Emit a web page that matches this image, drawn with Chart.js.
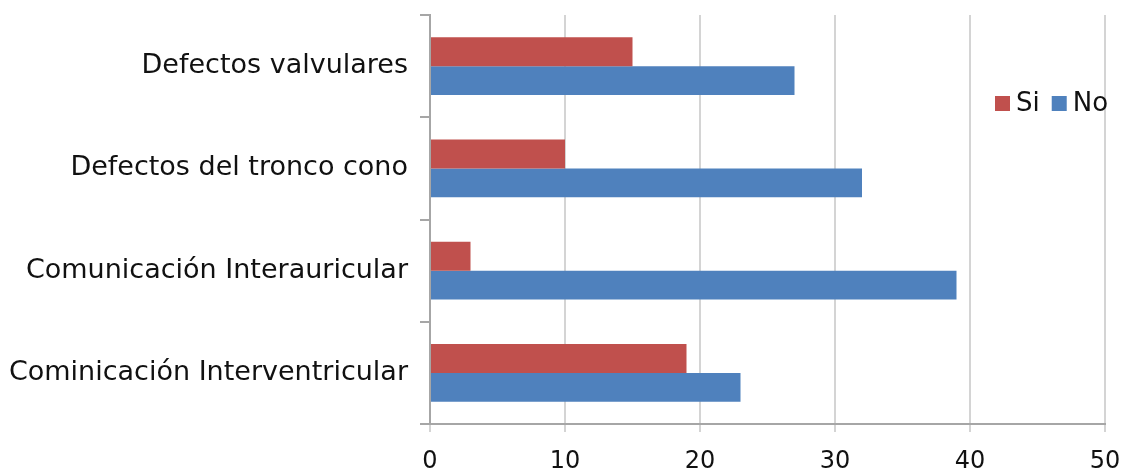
<!DOCTYPE html>
<html>
<head>
<meta charset="utf-8">
<script src="https://cdn.jsdelivr.net/npm/chart.js@4/dist/chart.umd.min.js"></script>
<style>
html,body{margin:0;padding:0;background:#fff;overflow:hidden;}
#wrap{width:1124px;height:469px;position:relative;}
</style>
</head>
<body>
<div id="wrap"><canvas id="c" width="1124" height="469"></canvas></div>
<script>
const categories = ["Defectos valvulares", "Defectos del tronco cono", "Comunicación Interauricular", "Cominicación Interventricular"];
const siValues = [15, 10, 3, 19];
const noValues = [27, 32, 39, 23];
const seriesNames = ["Si", "No"];
const xTicks = [0, 10, 20, 30, 40, 50];

const RED = "#C0504D";
const BLUE = "#4F81BD";
const FONT = "'DejaVu Sans', Verdana, sans-serif";

const legendPlugin = {
  id: 'customLegend',
  afterDraw(chart) {
    const ctx = chart.ctx;
    ctx.save();
    ctx.font = "26px " + FONT;
    ctx.textBaseline = "middle";
    let x = 995;
    const y = 103;
    chart.data.datasets.forEach((ds) => {
      ctx.fillStyle = ds.backgroundColor;
      ctx.fillRect(x, y - 7, 15, 15);
      x += 21;
      ctx.fillStyle = "#111";
      ctx.fillText(ds.label, x, y + 1);
      x += ctx.measureText(ds.label).width + 12;
    });
    ctx.restore();
  }
};

function zeroPad(scale) {
  scale.paddingTop = 0; scale.paddingBottom = 0;
  scale.paddingLeft = 0; scale.paddingRight = 0;
}

new Chart(document.getElementById('c'), {
  type: 'bar',
  data: {
    labels: categories,
    datasets: [
      { label: seriesNames[0], data: siValues, backgroundColor: RED, categoryPercentage: 0.565, barPercentage: 1.0 },
      { label: seriesNames[1], data: noValues, backgroundColor: BLUE, categoryPercentage: 0.565, barPercentage: 1.0 }
    ]
  },
  options: {
    indexAxis: 'y',
    responsive: false,
    animation: false,
    devicePixelRatio: 1,
    layout: { padding: { top: 15, right: 19, left: 0, bottom: 0 } },
    plugins: { legend: { display: false }, tooltip: { enabled: false } },
    scales: {
      x: {
        min: 0, max: 50,
        afterBuildTicks(scale) { scale.ticks = xTicks.map(v => ({ value: v })); },
        afterFit(scale) { scale.height = 45; zeroPad(scale); },
        grid: { color: "#d4d4d4", lineWidth: 2, tickLength: 8, drawTicks: true, tickColor: "#d4d4d4" },
        border: { display: true, color: "#a6a6a6", width: 2 },
        ticks: { color: "#111", font: { family: FONT, size: 24 }, padding: 15 }
      },
      y: {
        afterFit(scale) { scale.width = 430; zeroPad(scale); },
        grid: { drawOnChartArea: false, drawTicks: true, tickLength: 10, tickColor: "#a6a6a6", lineWidth: 2, offset: true },
        border: { display: true, color: "#a6a6a6", width: 2 },
        ticks: { color: "#111", font: { family: FONT, size: 27 }, padding: 12 }
      }
    }
  },
  plugins: [legendPlugin]
});
</script>
</body>
</html>
